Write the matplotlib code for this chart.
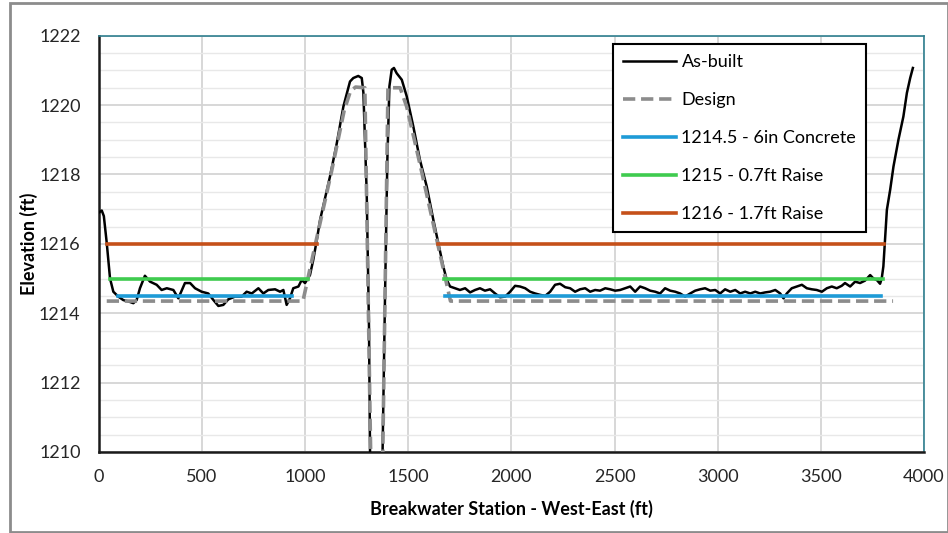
import matplotlib
matplotlib.use('Agg')
import matplotlib.pyplot as plt
from matplotlib.patches import Rectangle
from matplotlib.ticker import MultipleLocator

plt.rcParams['font.family'] = ['Lato', 'DejaVu Sans']

# As-built survey profile (station ft, elevation ft)
asbuilt_x = [0, 15, 25, 39, 55, 71, 95, 119, 144, 168, 184, 200, 224, 249, 281, 305, 330,
             362, 386, 418, 443, 467, 499, 531, 556, 580, 604, 628, 661, 693, 717, 742,
             774, 798, 822, 855, 879, 895, 911, 927, 943, 968, 984, 1000, 1024, 1040,
             1057, 1073, 1121, 1154, 1186, 1218, 1234, 1258, 1275, 1283, 1299, 1310,
             1315, 1330, 1350, 1365, 1376, 1388, 1399, 1409, 1420, 1431, 1444, 1469,
             1493, 1525, 1557, 1590, 1622, 1646, 1670, 1687, 1703, 1727, 1751, 1776,
             1800, 1824, 1848, 1872, 1897, 1921, 1945, 1970, 1994, 2018, 2042, 2067,
             2091, 2115, 2139, 2164, 2188, 2212, 2236, 2261, 2285, 2309, 2333, 2358,
             2382, 2406, 2430, 2455, 2479, 2503, 2527, 2551, 2576, 2600, 2624, 2648,
             2673, 2697, 2721, 2745, 2770, 2794, 2818, 2842, 2867, 2891, 2915, 2939,
             2964, 2988, 3012, 3036, 3061, 3085, 3109, 3133, 3158, 3182, 3206, 3230,
             3254, 3279, 3303, 3319, 3335, 3359, 3383, 3408, 3432, 3456, 3480, 3505,
             3529, 3553, 3577, 3601, 3617, 3642, 3666, 3690, 3714, 3739, 3755, 3771,
             3787, 3795, 3803, 3820, 3836, 3852, 3876, 3900, 3917, 3933, 3946]
asbuilt_y = [1216.90, 1216.96, 1216.80, 1216.03, 1215.00, 1214.62, 1214.48, 1214.38,
             1214.34, 1214.29, 1214.38, 1214.72, 1215.08, 1214.91, 1214.82, 1214.67,
             1214.72, 1214.67, 1214.43, 1214.87, 1214.87, 1214.72, 1214.62, 1214.57,
             1214.38, 1214.21, 1214.24, 1214.40, 1214.48, 1214.48, 1214.62, 1214.57,
             1214.72, 1214.57, 1214.67, 1214.69, 1214.62, 1214.67, 1214.24, 1214.43,
             1214.72, 1214.77, 1214.96, 1214.87, 1215.10, 1215.54, 1216.11, 1216.69,
             1217.94, 1218.90, 1219.96, 1220.68, 1220.78, 1220.84, 1220.78, 1220.35,
             1217.46, 1213.61, 1210.06, 1205.0, 1203.0, 1205.0, 1210.06, 1214.58,
             1218.42, 1220.54, 1221.02, 1221.07, 1220.92, 1220.73, 1220.25, 1219.38,
             1218.42, 1217.65, 1216.69, 1216.02, 1215.35, 1214.96, 1214.77, 1214.72,
             1214.67, 1214.72, 1214.60, 1214.67, 1214.72, 1214.65, 1214.69, 1214.57,
             1214.46, 1214.48, 1214.62, 1214.79, 1214.77, 1214.72, 1214.62, 1214.57,
             1214.53, 1214.50, 1214.62, 1214.82, 1214.85, 1214.75, 1214.72, 1214.62,
             1214.69, 1214.72, 1214.62, 1214.67, 1214.65, 1214.72, 1214.69, 1214.65,
             1214.67, 1214.72, 1214.77, 1214.62, 1214.77, 1214.72, 1214.65, 1214.62,
             1214.57, 1214.72, 1214.65, 1214.62, 1214.57, 1214.48, 1214.57, 1214.65,
             1214.69, 1214.72, 1214.65, 1214.67, 1214.57, 1214.69, 1214.62, 1214.67,
             1214.57, 1214.62, 1214.57, 1214.62, 1214.57, 1214.60, 1214.62, 1214.67,
             1214.57, 1214.43, 1214.57, 1214.72, 1214.77, 1214.82, 1214.72, 1214.69,
             1214.67, 1214.62, 1214.72, 1214.77, 1214.72, 1214.79, 1214.87, 1214.77,
             1214.91, 1214.87, 1214.94, 1215.10, 1215.00, 1214.96, 1214.85, 1215.00,
             1215.35, 1216.98, 1217.56, 1218.23, 1219.00, 1219.67, 1220.35, 1220.78,
             1221.07]

# Design profile
design_x = [39, 990, 1049, 1129, 1190, 1220, 1245, 1290, 1318, 1335, 1360, 1377,
            1402, 1461, 1493, 1557, 1645, 1705, 3850]
design_y = [1214.35, 1214.35, 1215.96, 1218.10, 1219.85, 1220.40, 1220.52, 1220.50,
            1210.0, 1203.0, 1203.0, 1210.0, 1220.50, 1220.50, 1219.95, 1218.30,
            1215.95, 1214.35, 1214.35]

# Raise options: west and east segments at each elevation
concrete_elev = 1214.5
concrete_x = [[94, 937], [1680, 3790]]
raise07_elev = 1215.0
raise07_x = [[55, 1015], [1674, 3800]]
raise17_elev = 1216.0
raise17_x = [[39, 1057], [1645, 3807]]

labels = ['As-built', 'Design', '1214.5 - 6in Concrete', '1215 - 0.7ft Raise',
          '1216 - 1.7ft Raise']

fig = plt.figure(figsize=(9.48, 5.33), dpi=100)
ax = fig.add_axes([0.1041, 0.152, 0.8706, 0.781])

ax.plot(asbuilt_x, asbuilt_y, color='black', lw=1.8, label=labels[0], zorder=3)
ax.plot(design_x, design_y, color='#8C8C8C', lw=2.6, ls=(0, (3.4, 1.6)),
        label=labels[1], zorder=4)

for elev, segs, col, lab in [(concrete_elev, concrete_x, '#1E9BD7', labels[2]),
                             (raise07_elev, raise07_x, '#3FCB4F', labels[3]),
                             (raise17_elev, raise17_x, '#C5501A', labels[4])]:
    for i, seg in enumerate(segs):
        ax.plot(seg, [elev, elev], color=col, lw=2.6, zorder=5,
                label=lab if i == 0 else None)

ax.set_xlim(0, 4000)
ax.set_ylim(1210, 1222)
ax.xaxis.set_major_locator(MultipleLocator(500))
ax.yaxis.set_major_locator(MultipleLocator(2))
ax.yaxis.set_minor_locator(MultipleLocator(0.5))
ax.grid(which='major', axis='both', color='#D4D4D4', lw=1.3, zorder=0)
ax.grid(which='minor', axis='y', color='#E8E8E8', lw=1.0, zorder=0)
ax.set_axisbelow(True)
ax.tick_params(which='both', length=0, labelsize=13, colors='#262626')
ax.tick_params(axis='x', pad=12)
ax.tick_params(axis='y', pad=13)

for side in ['left', 'bottom']:
    ax.spines[side].set_color('#1A1A1A')
    ax.spines[side].set_linewidth(1.8)
for side in ['top', 'right']:
    ax.spines[side].set_color('#2F7F8F')
    ax.spines[side].set_linewidth(1.2)

ax.set_xlabel('Breakwater Station - West-East (ft)', fontsize=13, fontweight='bold',
              labelpad=11)
ax.set_ylabel('Elevation (ft)', fontsize=13, fontweight='bold', labelpad=1)

leg = ax.legend(loc='upper left', bbox_to_anchor=(0.623, 0.98), borderaxespad=0,
                fontsize=13, handlelength=2.95, labelspacing=1.22, handletextpad=0.3,
                borderpad=0.55, fancybox=False, framealpha=1, edgecolor='black')
leg.get_frame().set_linewidth(1.5)

# outer chart frame
fig.patches.append(Rectangle((10 / 948, 1 / 533), 1 - 10 / 948, 1 - 4 / 533,
                             transform=fig.transFigure, fill=False,
                             edgecolor='#8C8C8C', lw=2))

fig.savefig('out.png', dpi=100)
